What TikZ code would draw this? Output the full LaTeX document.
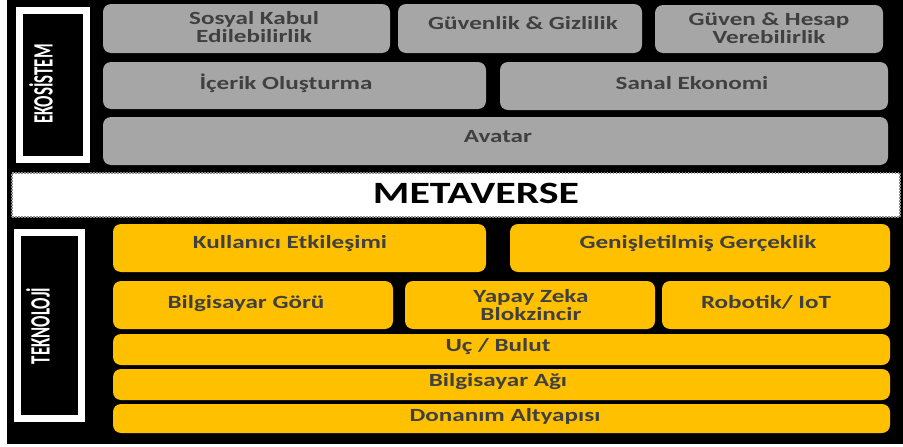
\documentclass[tikz,border=0pt]{standalone}
\usepackage{fontspec}
\setmainfont{Carlito}
\newfontfamily\boxfont[FakeStretch=1.35]{Carlito}
\newfontfamily\sidefont[FakeStretch=0.6]{Carlito}
\definecolor{myy}           {RGB}{255, 192, 0}
\definecolor{myg}           {RGB}{166, 166, 166}
\definecolor{myt}           {RGB}{64, 64, 64}
\usetikzlibrary{positioning}

\begin{document}
\begin{tikzpicture}[x=1pt, y=-1pt,
        graybox/.style={fill=myg, rounded corners=8pt, inner sep=0pt},
        yelbox/.style={fill=myy, rounded corners=8pt, inner sep=0pt},
        boxtxt/.style={text=myt, align=center, inner sep=0pt, font=\boxfont\bfseries\fontsize{18.6}{18}\selectfont},
        sidebox/.style={draw=white, line width=7pt, fill=black, inner sep=0pt},
        sidetxt/.style={text=white, rotate=90, inner sep=0pt, font=\sidefont\bfseries\fontsize{28}{28}\selectfont}]
        \useasboundingbox (0,0) rectangle (903,447);
        \fill[white] (0,0) rectangle (903,447);
        \fill[black] (7,0) rectangle (903,444);
        % ecosystem layer
        \foreach \name/\xa/\ya/\xb/\yb/\tx/\ty/\txt in {soskab/103/4/390/53/254/27/{Sosyal Kabul\\Edilebilirlik}, guvgiz/398/4/642/53/523/23/{Güvenlik \& Gizlilik}, guvhes/655/5/883/53/769/28/{Güven \& Hesap\\Verebilirlik}, icerik/103/62/486/109/286/83/{İçerik Oluşturma}, sanal/500/62/888/110/692/83/{Sanal Ekonomi}, avatar/103/117/888/165/498/137/{Avatar}}
        {
            \node[graybox, minimum width={(\xb-\xa)*1pt}, minimum height={(\yb-\ya)*1pt}] (\name) at ({(\xa+\xb)/2},{(\ya+\yb)/2}) {};
            \node[boxtxt] (\name-t) at (\tx,\ty) {\txt};
        }
        % technology layer
        \foreach \name/\xa/\ya/\xb/\yb/\tx/\ty/\txt in {kullan/113/224/486/272/290/244/{Kullanıcı Etkileşimi}, genis/510/224/890/272/698/244/{Genişletilmiş Gerçeklik}, bilgor/113/281/393/329/246/304/{Bilgisayar Görü}, yapay/405/281/655/329/531/305/{Yapay Zeka\\Blokzincir}, robot/662/281/890/329/766/302/{Robotik/ IoT}, ucbul/113/334/890/365/498/347/{Uç / Bulut}, agi/113/369/890/400/498/382/{Bilgisayar Ağı}, donan/113/404/890/433/505/416/{Donanım Altyapısı}}
        {
            \node[yelbox, minimum width={(\xb-\xa)*1pt}, minimum height={(\yb-\ya)*1pt}] (\name) at ({(\xa+\xb)/2},{(\ya+\yb)/2}) {};
            \node[boxtxt] (\name-t) at (\tx,\ty) {\txt};
        }
        \node[fill=white, draw=black!45, dash pattern=on 1.5pt off 1.5pt, line width=1.5pt, minimum width=888pt, minimum height=44pt, inner sep=0pt] (meta) at (456,195) {};
        \node[inner sep=0pt, font=\boxfont\bfseries\fontsize{31}{31}\selectfont] (meta-t) at (476,193) {METAVERSE};
        \node[sidebox, minimum width=67pt, minimum height=148.5pt] (eko) at (53,84.75) {};
        \node[sidetxt] (eko-t) at (41,84) {EKOSİSTEM};
        \node[sidebox, minimum width=64.5pt, minimum height=185.5pt] (tekno) at (49.25,325.25) {};
        \node[sidetxt] (tekno-t) at (38,326) {TEKNOLOJİ};
    \end{tikzpicture}
\end{document}
